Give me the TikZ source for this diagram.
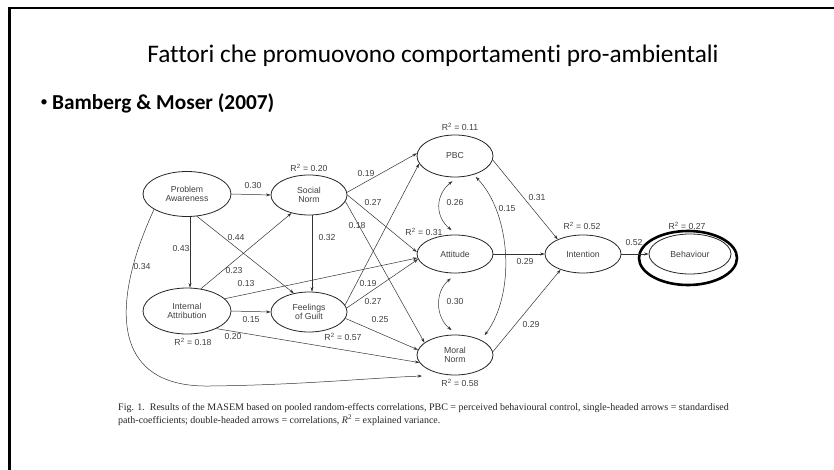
\documentclass[tikz,border=0pt]{standalone}
\usepackage{fontspec}
\setmainfont{Liberation Sans}
\newfontfamily\slidefont[Ligatures=NoCommon]{Carlito}
\newfontfamily\capfont{Liberation Serif}
\usetikzlibrary{shapes.geometric,arrows.meta}
\begin{document}
\begin{tikzpicture}[x=1pt,y=-1pt,
  var/.style={draw=black!85, line width=0.8pt, ellipse, inner sep=0pt, font=\fontsize{8.7}{9.7}\selectfont, text=black!75, align=center},
  lab/.style={font=\fontsize{8.7}{9}\selectfont, text=black!75, inner sep=0pt},
  arr/.style={draw=black!80, line width=0.5pt, -{Stealth[length=4.5pt,width=3pt]}},
  dbl/.style={draw=black!80, line width=0.5pt, {Stealth[length=4.5pt,width=3pt]}-{Stealth[length=4.5pt,width=3pt]}},
  capstyle/.style={font=\capfont\fontsize{10}{11}\selectfont, text=black!85, inner sep=0pt, anchor=west},
]
\useasboundingbox (0,0) rectangle (834,470);
\fill[white] (0,0) rectangle (834,470);
% slide frame
\draw[line width=2.5pt] (9.5,470) -- (9.5,8) -- (834,8);
% title
\node[font=\slidefont\fontsize{25.3}{29}\selectfont, inner sep=0pt] (title) at (433,56) {Fattori che promuovono comportamenti pro-ambientali};
\node[font=\slidefont\fontsize{15}{18}\selectfont, inner sep=0pt] (bullet) at (44,103) {•};
\node[font=\slidefont\bfseries\fontsize{21.3}{25}\selectfont, inner sep=0pt, anchor=west] (ref) at (52,103) {Bamberg \& Moser (2007)};

% variables
\node[var, minimum width=88, minimum height=45] (pa) at (187,194) {Problem\\Awareness};
\node[var, minimum width=76, minimum height=40] (sn) at (309,195) {Social\\Norm};
\node[var, minimum width=88, minimum height=46] (ia) at (187,311) {Internal\\Attribution};
\node[var, minimum width=76, minimum height=40] (fg) at (309,312) {Feelings\\of Guilt};
\node[var, minimum width=76, minimum height=42] (pbc) at (455,156) {PBC};
\node[var, minimum width=76, minimum height=38] (att) at (455,254) {Attitude};
\node[var, minimum width=76, minimum height=40] (mn) at (455,355) {Moral\\Norm};
\node[var, minimum width=76, minimum height=38] (int) at (583,254) {Intention};
\node[var, minimum width=82, minimum height=40] (beh) at (690,254) {Behaviour};
\node[draw=black, line width=2.6pt, ellipse, minimum width=98, minimum height=54, inner sep=0pt] (behring) at (688,258) {};
\coordinate (mnin) at (422,376);

% paths
\draw[arr] (pa.east) -- (sn.west);
\draw[arr] ([xshift=3pt]pa.south) -- ([xshift=3pt]ia.north);
\draw[arr] (pa.-66) -- (fg.129);
\draw[arr] (pa.-155) .. controls (112,300) and (108,388) .. (210,386) .. controls (300,385) and (370,378) .. (mnin);
\draw[arr] (ia.58) -- (sn.-134);
\draw[arr] ([xshift=3pt]sn.south) -- ([xshift=3pt]fg.north);
\draw[arr] (ia.18) -- (att.-174);
\draw[arr] (ia.east) -- (fg.west);
\draw[arr] (ia.-31) -- (mn.-168);
\draw[arr] (sn.4) -- (pbc.176);
\draw[arr] (sn.0) -- (att.177);
\draw[arr] (sn.-10) -- (mn.158);
\draw[arr] (fg.11) -- (pbc.-168);
\draw[arr] (fg.6) -- (att.-172);
\draw[arr] (fg.-10) -- (mn.172);
\draw[arr] (pbc.-6) -- (int.150);
\draw[arr] (att.east) -- (int.west);
\draw[arr] (mn.5) -- (int.-145);
\draw[arr] (int.east) -- (beh.west);
% correlations
\draw[dbl, shorten <=6pt, shorten >=7pt] ([xshift=2pt]pbc.south) .. controls +(-22,18) and +(-22,-18) .. ([xshift=2pt]att.north);
\draw[dbl, shorten <=8pt, shorten >=7pt] ([xshift=2pt]att.south) .. controls +(-22,18) and +(-22,-18) .. ([xshift=2pt]mn.north);
\draw[dbl, shorten <=3pt, shorten >=6pt] (pbc.-45) .. controls (512,215) and (515,295) .. (mn.30);

% labels
\node[lab] (r2sn) at (309,168) {R\textsuperscript{2} = 0.20};
\node[lab] (l030) at (253,186) {0.30};
\node[lab] (l019a) at (366,174) {0.19};
\node[lab] (l027a) at (373,203) {0.27};
\node[lab] (l018) at (357,226) {0.18};
\node[lab] (l044) at (236,238) {0.44};
\node[lab] (l043) at (181,249) {0.43};
\node[lab] (l032) at (327,238) {0.32};
\node[lab] (r2att) at (424,232) {R\textsuperscript{2} = 0.31};
\node[lab] (l034) at (142,267) {0.34};
\node[lab] (l023) at (234,271) {0.23};
\node[lab] (l013) at (246,284) {0.13};
\node[lab] (l019b) at (368,284) {0.19};
\node[lab] (l027b) at (373,302) {0.27};
\node[lab] (l015a) at (251,320) {0.15};
\node[lab] (l025) at (380,320) {0.25};
\node[lab] (l020) at (233,337) {0.20};
\node[lab] (r2ia) at (193,342) {R\textsuperscript{2} = 0.18};
\node[lab] (r2fg) at (343,337) {R\textsuperscript{2} = 0.57};
\node[lab] (r2pbc) at (460,127) {R\textsuperscript{2} = 0.11};
\node[lab] (l026) at (455,203) {0.26};
\node[lab] (l015b) at (507,209) {0.15};
\node[lab] (l031) at (537,198) {0.31};
\node[lab] (r2int) at (582,226) {R\textsuperscript{2} = 0.52};
\node[lab] (r2beh) at (687,226) {R\textsuperscript{2} = 0.27};
\node[lab] (l052) at (634,243) {0.52};
\node[lab] (l029a) at (525,262) {0.29};
\node[lab] (l030b) at (455,302) {0.30};
\node[lab] (l029b) at (531,325) {0.29};
\node[lab] (r2mn) at (460,383) {R\textsuperscript{2} = 0.58};

% caption
\node[capstyle] (cap1) at (118,408) {Fig. 1.\ \ Results of the MASEM based on pooled random-effects correlations, PBC = perceived behavioural control, single-headed arrows = standardised};
\node[capstyle] (cap2) at (118,420) {path-coefficients; double-headed arrows = correlations, \textit{R}\textsuperscript{2} = explained variance.};
\end{tikzpicture}
\end{document}
